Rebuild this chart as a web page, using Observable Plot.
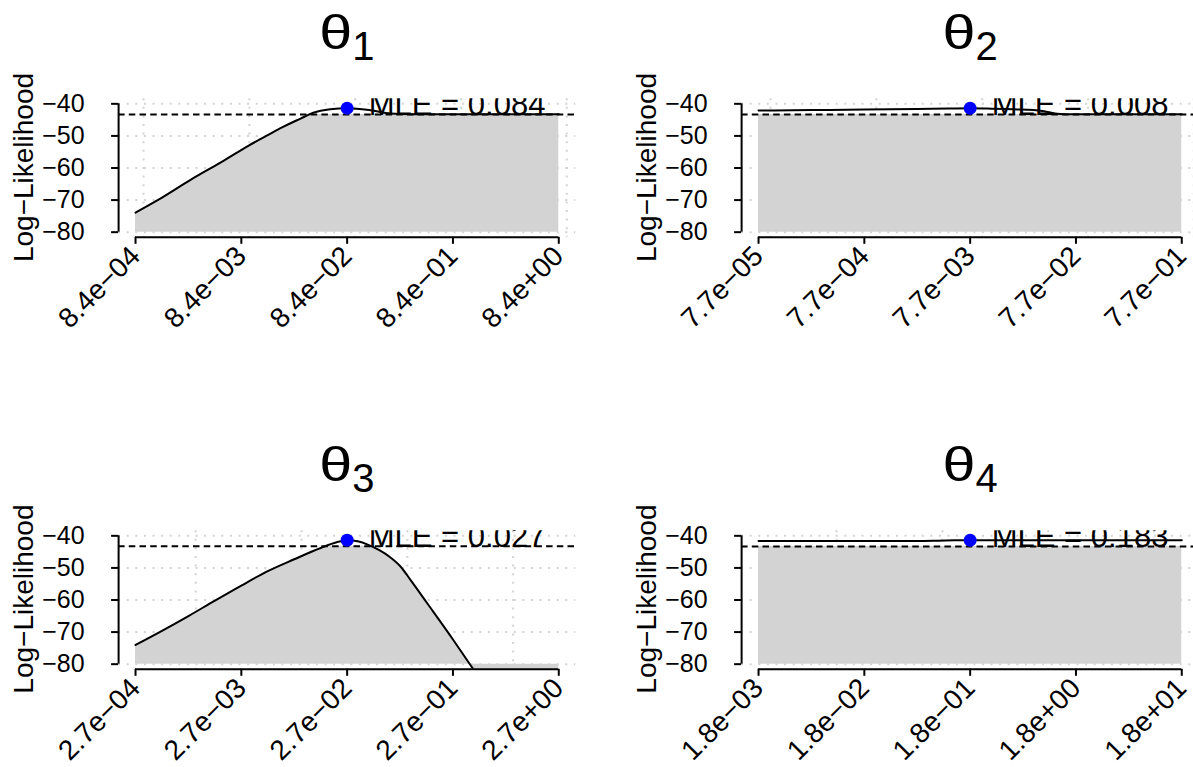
<!DOCTYPE html>
<html>
<head>
<meta charset="utf-8">
<script src="https://cdn.jsdelivr.net/npm/d3@7"></script>
<script src="https://cdn.jsdelivr.net/npm/@observablehq/plot@0.6"></script>
<style>
  html, body { margin: 0; padding: 0; background: #ffffff; }
  #wrap { position: relative; width: 1193px; height: 767px; overflow: hidden; background: #ffffff; }
  .panel { position: absolute; }
  .panel svg { max-width: none !important; }
  #titles { position: absolute; left: 0; top: 0; pointer-events: none; }
</style>
</head>
<body>
<div id="wrap"></div>
<script>
// ---------------- data ----------------
const subscripts = ["1", "2", "3", "4"];
const mle = [0.084, 0.0077, 0.027, 0.183];
const mleText = ["MLE = 0.084", "MLE = 0.008", "MLE = 0.027", "MLE = 0.183"];
const maxLL = [-41.37, -41.37, -41.35, -41.37];
const cutoff = [-43.29, -43.29, -43.27, -43.29];
const yTitle = "Log\u2212Likelihood";

const yTicks = [-40, -50, -60, -70, -80];
const yTickLabels = ["\u221240", "\u221250", "\u221260", "\u221270", "\u221280"];
const tickExponents = [-2, -1, 0, 1, 2];
const tickLabels1 = ["8.4e\u221204", "8.4e\u221203", "8.4e\u221202", "8.4e\u221201", "8.4e+00"];
const tickLabels2 = ["7.7e\u221205", "7.7e\u221204", "7.7e\u221203", "7.7e\u221202", "7.7e\u221201"];
const tickLabels3 = ["2.7e\u221204", "2.7e\u221203", "2.7e\u221202", "2.7e\u221201", "2.7e+00"];
const tickLabels4 = ["1.8e\u221203", "1.8e\u221202", "1.8e\u221201", "1.8e+00", "1.8e+01"];
const gridX1 = [1e-3, 1e-2, 1e-1, 1, 10];
const gridX2 = [1e-4, 1e-3, 1e-2, 1e-1, 1];
const gridX3 = [1e-3, 1e-2, 1e-1, 1];
const gridX4 = [1e-2, 1e-1, 1, 10];

// profile curves: offset in decades from the MLE, log-likelihood
const logOffset1 = [-2, -1.795, -1.48, -1.165, -0.93, -0.724, -0.63, -0.44, -0.32, -0.16, 0, 0.22, 0.41, 0.6, 1.0, 1.5, 2.0];
const logLik1    = [-73.9, -70.1, -63.7, -57.7, -53.0, -49.3, -47.6, -44.6, -42.8, -41.7, -41.37, -42.0, -43.0, -43.25, -43.25, -43.25, -43.25];
const logOffset2 = [-2, -1.5, -1, -0.5, -0.2, 0, 0.2, 0.4, 0.6, 0.7, 0.8, 0.9, 1.0, 2.0];
const logLik2    = [-42.1, -41.95, -41.8, -41.6, -41.45, -41.37, -41.5, -41.7, -41.9, -42.3, -43.0, -43.25, -43.25, -43.25];
const logOffset3 = [-2, -1.75, -1.5, -1.25, -1, -0.75, -0.5, -0.25, -0.1, 0, 0.1, 0.2, 0.3, 0.4, 0.5, 0.6, 0.75, 1.0, 1.18, 1.3, 1.5, 2.0];
const logLik3    = [-74.0, -69.6, -65.0, -60.2, -55.5, -51.0, -47.3, -43.8, -42.0, -41.35, -41.7, -42.8, -44.4, -46.5, -49.4, -53.8, -60.7, -72.3, -81.0, -86.5, -96, -120];
const logOffset4 = [-2, -1, -0.5, -0.3, -0.15, 0, 1, 2];
const logLik4    = [-41.62, -41.62, -41.6, -41.5, -41.4, -41.37, -41.38, -41.4];

const tickLabelSets = [tickLabels1, tickLabels2, tickLabels3, tickLabels4];
const gridSets = [gridX1, gridX2, gridX3, gridX4];
const offsetSets = [logOffset1, logOffset2, logOffset3, logOffset4];
const llSets = [logLik1, logLik2, logLik3, logLik4];

// ---------------- layout ----------------
const FONT = "'Liberation Sans', Arial, Helvetica, sans-serif";
const W = 600, H = 400;
const mL = 118.1, mR = 24.8, mT = 98.2, mB = 163.2;
const panelLeft = [0, 623.1, 0, 623.1];
const panelTop = [0, 0, 431.6, 431.6];
const yDomain = [-81.6, -38.4];
const pad = 0.16; // decades of padding on each side of the x range

const wrap = document.getElementById("wrap");

function makePanel(i) {
  const m = mle[i];
  const curve = offsetSets[i].map((o, j) => ({x: m * Math.pow(10, o), y: llSets[i][j]}));
  const ticks = tickExponents.map(k => m * Math.pow(10, k));
  const labels = tickLabelSets[i];
  const thr = cutoff[i];
  const xDomain = [m * Math.pow(10, -2 - pad), m * Math.pow(10, 2 + pad)];
  const point = [{x: m, y: maxLL[i], t: mleText[i]}];

  const svg = Plot.plot({
    width: W, height: H,
    marginLeft: mL, marginRight: mR, marginTop: mT, marginBottom: mB,
    x: {type: "log", domain: xDomain, axis: null},
    y: {domain: yDomain, axis: null},
    style: {fontFamily: FONT, background: "transparent", color: "black", overflow: "visible"},
    marks: [
      // dotted grid
      Plot.ruleY(yTicks, {y: d => d, stroke: "#d3d3d3", strokeWidth: 2, strokeDasharray: "2 6.6"}),
      Plot.ruleX(gridSets[i], {x: d => d, stroke: "#d3d3d3", strokeWidth: 2, strokeDasharray: "2 6.6"}),
      // shaded region under the profile (up to the cutoff)
      Plot.areaY(curve, {x: "x", y1: () => -80, y2: d => Math.min(d.y, thr), fill: "#d3d3d3", curve: "monotone-x", clip: true}),
      // profile curve
      Plot.line(curve, {x: "x", y: "y", stroke: "black", strokeWidth: 2, curve: "monotone-x", clip: true}),
      // cutoff line
      Plot.ruleY([thr], {y: d => d, stroke: "black", strokeWidth: 2, strokeDasharray: "6.5 4.2"}),
      // MLE point and label
      Plot.dot(point, {x: "x", y: "y", r: 6.5, fill: "#0000ff", stroke: null}),
      Plot.text(point, {x: "x", y: "y", text: "t", textAnchor: "start", lineAnchor: "middle", dx: 21.6, dy: -3.4,
                        fontSize: 31, fill: "black", clip: true}),
      // y axis
      Plot.ruleX([xDomain[0]], {x: d => d, y1: () => yTicks[yTicks.length - 1], y2: () => yTicks[0], stroke: "black", strokeWidth: 2}),
      Plot.axisY({ticks: yTicks, tickSize: 7, strokeWidth: 2, label: null, tickFormat: () => ""}),
      Plot.text(yTicks, {y: d => d, frameAnchor: "left", text: (d, j) => yTickLabels[j], textAnchor: "end",
                         lineAnchor: "middle", dx: -34, fontSize: 25, fill: "black"}),
      // x axis
      Plot.ruleY([yDomain[0]], {y: d => d, x1: () => ticks[0], x2: () => ticks[ticks.length - 1], stroke: "black", strokeWidth: 2}),
      Plot.axisX({ticks: ticks, tickSize: 7, strokeWidth: 2, label: null, tickFormat: () => ""}),
      Plot.text(ticks, {x: d => d, frameAnchor: "bottom", text: (d, j) => labels[j], rotate: -45, textAnchor: "end",
                        lineAnchor: "middle", dx: 0, dy: 14, fontSize: 28, fill: "black"})
    ]
  });

  const holder = document.createElement("div");
  holder.className = "panel";
  holder.style.left = panelLeft[i] + "px";
  holder.style.top = panelTop[i] + "px";
  holder.style.width = W + "px";
  holder.style.height = H + "px";
  holder.appendChild(svg);
  wrap.appendChild(holder);
}

for (let i = 0; i < 4; i++) makePanel(i);

// titles (theta with subscript) and y-axis titles
const NS = "http://www.w3.org/2000/svg";
const tsvg = document.createElementNS(NS, "svg");
tsvg.setAttribute("id", "titles");
tsvg.setAttribute("width", 1193);
tsvg.setAttribute("height", 767);
const frameMid = mT + (H - mT - mB) / 2;
function addText(parent, str, attrs) {
  const t = document.createElementNS(NS, "text");
  for (const k in attrs) t.setAttribute(k, attrs[k]);
  t.setAttribute("font-family", FONT);
  t.setAttribute("fill", "black");
  t.textContent = str;
  parent.appendChild(t);
  return t;
}
for (let i = 0; i < 4; i++) {
  const L = panelLeft[i], T = panelTop[i];
  addText(tsvg, "\u03B8", {x: L + 319.3, y: T + 49.3, "font-size": 48, textLength: 33, lengthAdjust: "spacingAndGlyphs"});
  addText(tsvg, subscripts[i], {x: L + 352.3, y: T + 60, "font-size": 40});
  addText(tsvg, yTitle, {transform: `translate(${L + 33.3},${T + frameMid}) rotate(-90)`, "text-anchor": "middle", "font-size": 28});
}
wrap.appendChild(tsvg);
</script>
</body>
</html>
